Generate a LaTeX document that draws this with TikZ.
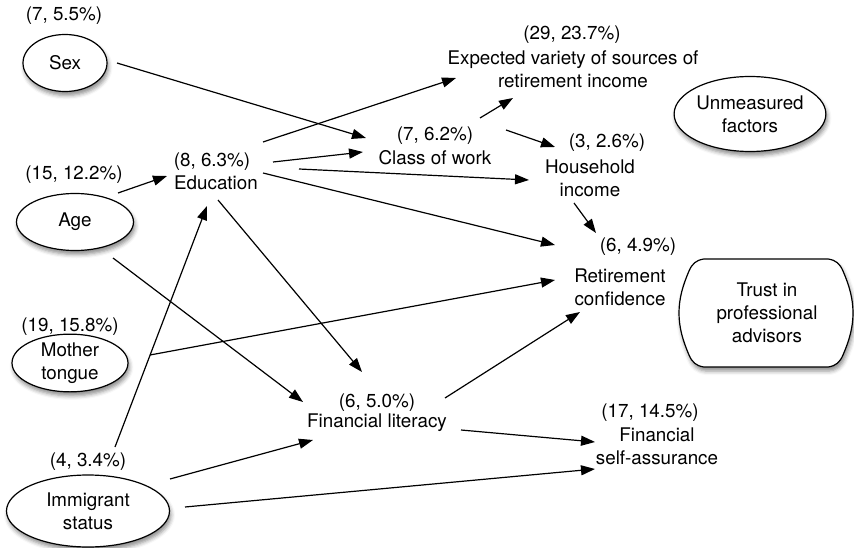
\documentclass[tikz,border=0pt]{standalone}
\usepackage{fontspec}
\setmainfont{TeX Gyre Heros}
\usetikzlibrary{shapes.geometric,arrows.meta,shadows.blur}

\begin{document}
\begin{tikzpicture}[x=1pt,y=-1pt,
  every node/.style={font=\fontsize{18.8}{23}\selectfont, inner sep=0pt, align=center},
  shade3d/.style={blur shadow={shadow xshift=1.5pt, shadow yshift=-4pt,
      shadow blur radius=4pt, shadow opacity=45}},
  factor/.style={ellipse, draw, line width=1.2pt, fill=white, shade3d},
  link/.style={line width=1.2pt, -{Triangle[length=14pt,width=10pt]}},
]
\useasboundingbox (0,0) rectangle (854,548);

% exogenous factors (ellipses) with their labels
\node (sexL) at (64,16) {(7, 5.5\%)};
\node[factor, minimum width=84pt, minimum height=57pt] (sex) at (65,63) {Sex};
\node (ageL) at (74,175) {(15, 12.2\%)};
\node[factor, minimum width=117pt, minimum height=57pt] (age) at (75,222) {Age};
\node (momL) at (70,327) {(19, 15.8\%)};
\node[factor, minimum width=116pt, minimum height=57pt] (mom) at (70,363) {Mother\\tongue};
\node (immL) at (88,462) {(4, 3.4\%)};
\node[factor, minimum width=163pt, minimum height=72pt] (imm) at (88,511) {Immigrant\\status};
\node[factor, minimum width=146pt, minimum height=75pt] (unm) at (750,114) {Unmeasured\\factors};

% barrel-shaped box: straight top and bottom, bulging sides
\begin{scope}[shift={(766,313)}]
  \draw[line width=1.2pt, fill=white, shade3d, line join=round]
    (-62,-54) -- (62,-54)
    .. controls (70,-53) and (74,-49) .. (77,-42)
    .. controls (83,-28) and (87,-15) .. (87,0)
    .. controls (87,15) and (83,28) .. (77,42)
    .. controls (74,49) and (70,53) .. (62,54)
    -- (-62,54)
    .. controls (-70,53) and (-74,49) .. (-77,42)
    .. controls (-83,28) and (-87,15) .. (-87,0)
    .. controls (-87,-15) and (-83,-28) .. (-77,-42)
    .. controls (-74,-49) and (-70,-53) .. (-62,-54) -- cycle;
\end{scope}
\node (trust) at (767,313) {Trust in\\professional\\advisors};

% mediating and outcome variables
\node (eduL) at (212,162) {(8, 6.3\%)};
\node (edu) at (216,183) {Education};
\node (cowL) at (435,136) {(7, 6.2\%)};
\node (cow) at (435,158) {Class of work};
\node (expL) at (572,35) {(29, 23.7\%)};
\node (exp) at (573,69) {Expected variety of sources of\\retirement income};
\node (hhL) at (607,143) {(3, 2.6\%)};
\node (hh) at (590,178) {Household\\income};
\node (rcL) at (638,247) {(6, 4.9\%)};
\node (rc) at (620,287) {Retirement\\confidence};
\node (flL) at (377,403) {(6, 5.0\%)};
\node (fl) at (377,423) {Financial literacy};
\node (fsaL) at (650,413) {(17, 14.5\%)};
\node (fsa) at (657,446) {Financial\\self-assurance};

% paths
\draw[link] ([shift={(52,0)}]sex.center) -- ([shift={(-69,-20)}]cow.center);
\draw[link] ([shift={(47,-41)}]edu.center) -- ([shift={(-117,9)}]exp.center);
\draw[link] ([shift={(57,-21)}]edu.center) -- ([shift={(-72,-6)}]cow.center);
\draw[link] ([shift={(83,-14)}]edu.center) -- ([shift={(-61,2)}]hh.center);
\draw[link] ([shift={(47,-10)}]edu.center) -- ([shift={(-65,-42)}]rc.center);
\draw[link] ([shift={(2,17)}]edu.center) -- ([shift={(-15,-31)}]flL.center);
\draw[link] ([shift={(45,-18)}]cowL.center) -- ([shift={(-60,29)}]exp.center);
\draw[link] ([shift={(71,-6)}]cowL.center) -- ([shift={(-52,4)}]hhL.center);
\draw[link] ([shift={(-16,25)}]hh.center) -- ([shift={(-42,-14)}]rcL.center);
\draw[link] ([shift={(68,-5)}]flL.center) -- ([shift={(-40,25)}]rc.center);
\draw[link] ([shift={(84,7)}]fl.center) -- ([shift={(-62,-4)}]fsa.center);
\draw[link] ([shift={(97,-4)}]imm.center) -- ([shift={(-62,23)}]fsa.center);
\draw[link] ([shift={(82,-32)}]imm.center) -- ([shift={(-64,17)}]fl.center);
\draw[link] ([shift={(27,-15)}]immL.center) -- ([shift={(-9,23)}]edu.center);
\draw[link] ([shift={(43,-29)}]age.center) -- ([shift={(-45,14)}]eduL.center);
\draw[link] ([shift={(38,36)}]age.center) -- ([shift={(-74,-1)}]flL.center);
\draw[link] ([shift={(80,-8)}]mom.center) -- ([shift={(-65,-7)}]rc.center);
\end{tikzpicture}
\end{document}
